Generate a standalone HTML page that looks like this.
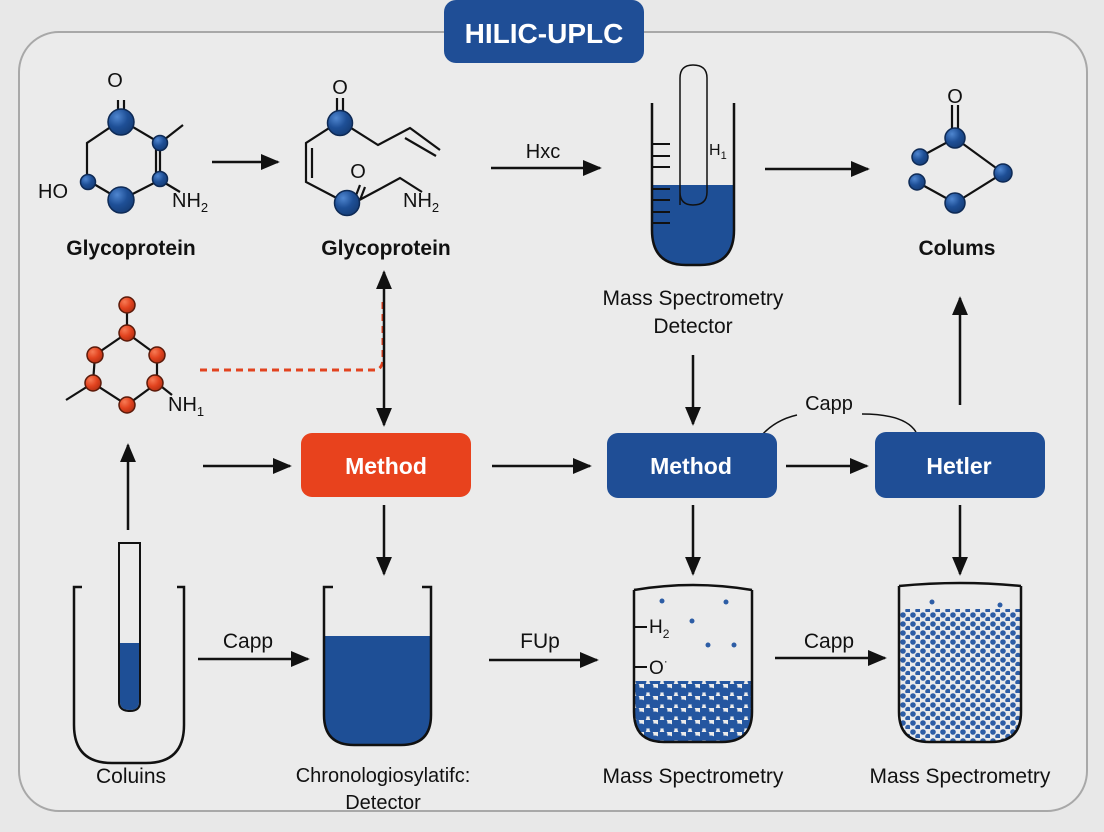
<!DOCTYPE html>
<html><head><meta charset="utf-8"><style>
html,body{margin:0;padding:0;background:#e8e8e8;}
svg{display:block;font-family:"Liberation Sans","DejaVu Sans",sans-serif;}
</style></head><body>
<svg width="1104" height="832" viewBox="0 0 1104 832" xmlns="http://www.w3.org/2000/svg">
<defs>
<marker id="ah" viewBox="0 0 10 10" refX="9" refY="5" markerWidth="19" markerHeight="19" orient="auto-start-reverse" markerUnits="userSpaceOnUse">
<path d="M0,0.8 L10,5 L0,9.2 z" fill="#111"/>
</marker>
<radialGradient id="bg" cx="0.35" cy="0.3" r="0.8"><stop offset="0" stop-color="#4f86d0"/><stop offset="0.5" stop-color="#1e4f96"/><stop offset="1" stop-color="#143a72"/></radialGradient>
<radialGradient id="rg" cx="0.35" cy="0.3" r="0.8"><stop offset="0" stop-color="#f77b55"/><stop offset="0.5" stop-color="#e2431f"/><stop offset="1" stop-color="#a92d12"/></radialGradient>
<pattern id="big" x="0" y="0" width="14" height="12" patternUnits="userSpaceOnUse">
<circle cx="4" cy="3" r="5.5" fill="#2456a0"/><circle cx="11" cy="9" r="5.5" fill="#2456a0"/><circle cx="-3" cy="9" r="5.5" fill="#2456a0"/>
</pattern>
<pattern id="small" x="0" y="0" width="10" height="9" patternUnits="userSpaceOnUse">
<circle cx="3" cy="3" r="2.8" fill="#2d5da5"/><circle cx="8" cy="7.5" r="2.8" fill="#2d5da5"/>
</pattern>
<clipPath id="b3"><path d="M634,590 L634,712 Q634,742 664,742 L722,742 Q752,742 752,712 L752,590 Z"/></clipPath>
<clipPath id="b4"><path d="M899,590 L899,712 Q899,742 929,742 L991,742 Q1021,742 1021,712 L1021,590 Z"/></clipPath>
</defs>

<rect x="0" y="0" width="1104" height="832" fill="#e8e8e8"/>
<rect x="19" y="32" width="1068" height="779" rx="40" fill="#ebebeb" stroke="#a8a8a8" stroke-width="2"/>

<rect x="444" y="0" width="200" height="63" rx="12" fill="#1f4e96"/>
<text x="544" y="43" text-anchor="middle" font-size="28" font-weight="bold" fill="#fff">HILIC-UPLC</text>

<g stroke="#111" stroke-width="2.2" fill="none">
<line x1="118" y1="100" x2="118" y2="117"/><line x1="124" y1="100" x2="124" y2="117"/>
<polyline points="121,120 87,143 87,180 121,200 160,180 160,143 121,120"/>
<line x1="156" y1="146" x2="156" y2="176"/>
<line x1="160" y1="143" x2="183" y2="125"/>
<line x1="160" y1="180" x2="180" y2="192"/>
<line x1="337" y1="98" x2="337" y2="118"/><line x1="343" y1="98" x2="343" y2="118"/>
<polyline points="340,121 306,143 306,182 350,205"/>
<line x1="312" y1="148" x2="312" y2="178"/>
<polyline points="340,121 378,145 410,128 440,150"/>
<line x1="405" y1="138" x2="436" y2="156"/>
<line x1="355" y1="198" x2="360" y2="185"/><line x1="360" y1="200" x2="365" y2="187"/>
<polyline points="350,205 378,190 400,178 422,192"/>
</g>
<g font-size="20" fill="#111">
<text x="115" y="87" text-anchor="middle">O</text>
<text x="38" y="198">HO</text>
<text x="172" y="207">NH<tspan font-size="13" dy="5">2</tspan></text>
<text x="340" y="94" text-anchor="middle">O</text>
<text x="358" y="178" text-anchor="middle">O</text>
<text x="403" y="207">NH<tspan font-size="13" dy="5">2</tspan></text>
</g>
<g>
<circle cx="121" cy="122" r="13" fill="url(#bg)" stroke="#0e2a55" stroke-width="1.5"/>
<circle cx="160" cy="143" r="7.5" fill="url(#bg)" stroke="#0e2a55" stroke-width="1.5"/>
<circle cx="160" cy="179" r="7.5" fill="url(#bg)" stroke="#0e2a55" stroke-width="1.5"/>
<circle cx="121" cy="200" r="13" fill="url(#bg)" stroke="#0e2a55" stroke-width="1.5"/>
<circle cx="88" cy="182" r="7.5" fill="url(#bg)" stroke="#0e2a55" stroke-width="1.5"/>
<circle cx="340" cy="123" r="12.5" fill="url(#bg)" stroke="#0e2a55" stroke-width="1.5"/>
<circle cx="347" cy="203" r="12.5" fill="url(#bg)" stroke="#0e2a55" stroke-width="1.5"/>
</g>
<text x="131" y="255" text-anchor="middle" font-size="21" font-weight="bold" fill="#111">Glycoprotein</text>
<text x="386" y="255" text-anchor="middle" font-size="21" font-weight="bold" fill="#111">Glycoprotein</text>

<g stroke="#111" stroke-width="2.5" fill="none">
<line x1="212" y1="162" x2="278" y2="162" marker-end="url(#ah)"/>
<line x1="491" y1="168" x2="600" y2="168" marker-end="url(#ah)"/>
<line x1="765" y1="169" x2="868" y2="169" marker-end="url(#ah)"/>
</g>
<text x="543" y="158" text-anchor="middle" font-size="20" fill="#111">Hxc</text>

<path d="M652,185 L734,185 L734,230 Q734,265 700,265 L686,265 Q652,265 652,230 Z" fill="#1e4f96"/>
<path d="M652,103 L652,230 Q652,265 686,265 L700,265 Q734,265 734,230 L734,103" fill="none" stroke="#111" stroke-width="2.5"/>
<path d="M680,205 L680,78 Q680,65 693,65 Q707,65 707,78 L707,192 Q707,205 693,205 Q680,205 680,192" fill="none" stroke="#111" stroke-width="1.5"/>
<g stroke="#111" stroke-width="2">
<line x1="653" y1="144" x2="670" y2="144"/><line x1="653" y1="156" x2="670" y2="156"/><line x1="653" y1="167" x2="670" y2="167"/>
<line x1="653" y1="189" x2="670" y2="189"/><line x1="653" y1="200" x2="670" y2="200"/><line x1="653" y1="212" x2="670" y2="212"/><line x1="653" y1="223" x2="670" y2="223"/>
</g>
<text x="709" y="155" font-size="16" fill="#111">H<tspan font-size="11" dy="4">1</tspan></text>
<text x="693" y="305" text-anchor="middle" font-size="21" fill="#111">Mass Spectrometry</text>
<text x="693" y="333" text-anchor="middle" font-size="21" fill="#111">Detector</text>

<g stroke="#111" stroke-width="2.2">
<line x1="952" y1="105" x2="952" y2="130"/><line x1="958" y1="105" x2="958" y2="130"/>
<polyline fill="none" points="920,157 955,138 1003,173 955,203 917,182"/>
</g>
<text x="955" y="103" text-anchor="middle" font-size="20" fill="#111">O</text>
<circle cx="955" cy="138" r="10" fill="url(#bg)" stroke="#0e2a55" stroke-width="1.5"/>
<circle cx="920" cy="157" r="8" fill="url(#bg)" stroke="#0e2a55" stroke-width="1.5"/>
<circle cx="917" cy="182" r="8" fill="url(#bg)" stroke="#0e2a55" stroke-width="1.5"/>
<circle cx="955" cy="203" r="10" fill="url(#bg)" stroke="#0e2a55" stroke-width="1.5"/>
<circle cx="1003" cy="173" r="9" fill="url(#bg)" stroke="#0e2a55" stroke-width="1.5"/>
<text x="957" y="255" text-anchor="middle" font-size="21" font-weight="bold" fill="#111">Colums</text>

<g stroke="#111" stroke-width="2.2" fill="none">
<polyline points="127,305 127,333 95,355 93,383 127,405 157,383 157,355 127,333"/>
<line x1="93" y1="383" x2="66" y2="400"/>
<line x1="157" y1="383" x2="172" y2="395"/>
</g>
<g fill="url(#rg)" stroke="#5a1a0a" stroke-width="1.5">
<circle cx="127" cy="305" r="8"/><circle cx="127" cy="333" r="8"/><circle cx="95" cy="355" r="8"/>
<circle cx="157" cy="355" r="8"/><circle cx="93" cy="383" r="8"/><circle cx="155" cy="383" r="8"/><circle cx="127" cy="405" r="8"/>
</g>
<text x="168" y="411" font-size="20" fill="#111">NH<tspan font-size="13" dy="5">1</tspan></text>

<path d="M200,370 L376,370 Q383,368 383,358 L383,300" fill="none" stroke="#e2431f" stroke-width="3" stroke-dasharray="7,5"/>

<g stroke="#111" stroke-width="2.5" fill="none">
<line x1="384" y1="350" x2="384" y2="272" marker-end="url(#ah)"/>
<line x1="384" y1="350" x2="384" y2="425" marker-end="url(#ah)"/>
<line x1="128" y1="530" x2="128" y2="445" marker-end="url(#ah)"/>
<line x1="203" y1="466" x2="290" y2="466" marker-end="url(#ah)"/>
<line x1="492" y1="466" x2="590" y2="466" marker-end="url(#ah)"/>
<line x1="786" y1="466" x2="867" y2="466" marker-end="url(#ah)"/>
<line x1="693" y1="355" x2="693" y2="424" marker-end="url(#ah)"/>
<line x1="960" y1="405" x2="960" y2="298" marker-end="url(#ah)"/>
<line x1="384" y1="505" x2="384" y2="574" marker-end="url(#ah)"/>
<line x1="693" y1="505" x2="693" y2="574" marker-end="url(#ah)"/>
<line x1="960" y1="505" x2="960" y2="574" marker-end="url(#ah)"/>
<line x1="198" y1="659" x2="308" y2="659" marker-end="url(#ah)"/>
<line x1="489" y1="660" x2="597" y2="660" marker-end="url(#ah)"/>
<line x1="775" y1="658" x2="885" y2="658" marker-end="url(#ah)"/>
</g>
<path d="M761,436 Q775,420 797,415 M862,414 Q905,414 916,432" fill="none" stroke="#111" stroke-width="1.5"/>
<text x="829" y="410" text-anchor="middle" font-size="20" fill="#111">Capp</text>

<rect x="301" y="433" width="170" height="64" rx="11" fill="#e8421d"/>
<text x="386" y="474" text-anchor="middle" font-size="23" font-weight="bold" fill="#fff">Method</text>
<rect x="607" y="433" width="170" height="65" rx="11" fill="#1f4e96"/>
<text x="691" y="474" text-anchor="middle" font-size="23" font-weight="bold" fill="#fff">Method</text>
<rect x="875" y="432" width="170" height="66" rx="11" fill="#1f4e96"/>
<text x="959" y="474" text-anchor="middle" font-size="23" font-weight="bold" fill="#fff">Hetler</text>

<path d="M82,587 L74,587 L74,725 Q74,763 112,763 L146,763 Q184,763 184,725 L184,587 L177,587" fill="none" stroke="#111" stroke-width="2.5"/>
<path d="M120,643 L139,643 L139,702 Q139,710 130,710 Q120,710 120,702 Z" fill="#1e4f96"/>
<path d="M119,543 L140,543 L140,702 Q140,711 130,711 Q119,711 119,702 Z" fill="none" stroke="#111" stroke-width="2"/>
<text x="131" y="783" text-anchor="middle" font-size="21" fill="#111">Coluins</text>
<text x="248" y="648" text-anchor="middle" font-size="21" fill="#111">Capp</text>

<path d="M324,636 L431,636 L431,715 Q431,745 401,745 L354,745 Q324,745 324,715 Z" fill="#1e4f96"/>
<path d="M333,587 L324,587 L324,715 Q324,745 354,745 L401,745 Q431,745 431,715 L431,587 L422,587" fill="none" stroke="#111" stroke-width="2.5"/>
<text x="383" y="782" text-anchor="middle" font-size="20" fill="#111">Chronologiosylatifc:</text>
<text x="383" y="809" text-anchor="middle" font-size="20" fill="#111">Detector</text>
<text x="540" y="648" text-anchor="middle" font-size="21" fill="#111">FUp</text>

<rect x="634" y="681" width="118" height="70" fill="url(#big)" clip-path="url(#b3)"/>
<g fill="#2d5da5"><circle cx="662" cy="601" r="2.5"/><circle cx="726" cy="602" r="2.5"/><circle cx="692" cy="621" r="2.5"/><circle cx="708" cy="645" r="2.5"/><circle cx="734" cy="645" r="2.5"/></g>
<path d="M634,590 Q693,580 752,590 M634,590 L634,712 Q634,742 664,742 L722,742 Q752,742 752,712 L752,590" fill="none" stroke="#111" stroke-width="2.5"/>
<line x1="634" y1="627" x2="647" y2="627" stroke="#111" stroke-width="2"/>
<line x1="634" y1="667" x2="647" y2="667" stroke="#111" stroke-width="2"/>
<text x="649" y="633" font-size="19" fill="#111">H<tspan font-size="12" dy="5">2</tspan></text>
<text x="649" y="674" font-size="19" fill="#111">O<tspan font-size="12" dy="-9">·</tspan></text>
<text x="693" y="783" text-anchor="middle" font-size="21" fill="#111">Mass Spectrometry</text>
<text x="829" y="648" text-anchor="middle" font-size="21" fill="#111">Capp</text>

<rect x="899" y="609" width="122" height="140" fill="url(#small)" clip-path="url(#b4)"/>
<g fill="#2d5da5"><circle cx="932" cy="602" r="2.5"/><circle cx="1000" cy="605" r="2.5"/></g>
<path d="M899,586 Q960,580 1021,586 M899,586 L899,712 Q899,742 929,742 L991,742 Q1021,742 1021,712 L1021,586" fill="none" stroke="#111" stroke-width="2.5"/>
<text x="960" y="783" text-anchor="middle" font-size="21" fill="#111">Mass Spectrometry</text>
</svg>
</body></html>
